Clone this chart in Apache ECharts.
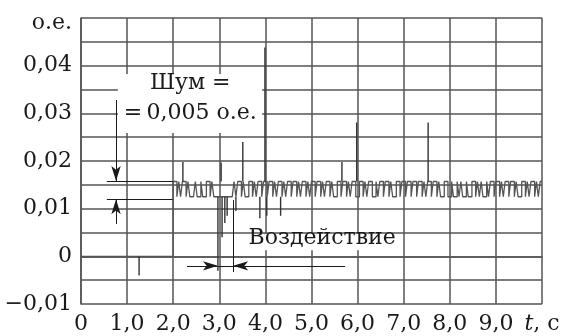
<!DOCTYPE html>
<html>
<head>
<meta charset="utf-8">
<script src="https://cdn.jsdelivr.net/npm/echarts@6/dist/echarts.min.js"></script>
<style>
html, body { margin: 0; padding: 0; background: #fff; }
#chart { width: 571px; height: 336px; }
</style>
</head>
<body>
<div id="chart"></div>
<script>
// axis ticks and their labels
const xTickValues = [0, 1, 2, 3, 4, 5, 6, 7, 8, 9, 10];
const xTickLabels = ["0", "1,0", "2,0", "3,0", "4,0", "5,0", "6,0", "7,0", "8,0", "9,0", "{i|t}, с"];
const yTickValues = [-0.01, 0, 0.01, 0.02, 0.03, 0.04, 0.05];
const yTickLabels = ["−0,01", "0", "0,01", "0,02", "0,03", "0,04", "{u|о.е.}"];

// signal before the noise starts, [t, value]
const headSignal = [[0, 0], [2.0, 0]];
const headDips = [[1.26, -0.004]];

// quantised noise after t = 2.0 s: 0 = low level, 1 = high level
const noiseStart = 2.0;
const sampleStep = 0.04;
const noiseLow = 0.0125;
const noiseHigh = 0.0157;
const noiseBits = [
    1, 1, 0, 1, 0, 1, 1, 0, 1, 0, 0, 0, 1, 0, 0, 1, 0, 0, 1, 1, 0, 1, 0, 0, 0,
    0, 0, 0, 0, 0, 0, 0, 0, 1, 0, 1, 1, 0, 1, 0, 0, 1, 1, 0, 1, 0, 1, 1, 0, 1,
    1, 0, 1, 1, 0, 1, 0, 1, 1, 0, 1, 0, 1, 1, 0, 1, 1, 0, 1, 0, 1, 1, 0, 1, 0,
    1, 1, 0, 1, 1, 0, 1, 0, 1, 1, 0, 1, 0, 0, 1, 1, 0, 1, 1, 0, 1, 0, 1, 1, 0,
    0, 1, 1, 0, 1, 0, 1, 1, 0, 0, 1, 0, 1, 1, 0, 1, 1, 0, 1, 0, 0, 1, 1, 0, 1,
    1, 0, 1, 1, 0, 1, 1, 0, 1, 1, 0, 1, 0, 1, 1, 0, 1, 1, 0, 1, 0, 0, 1, 1, 0,
    0, 1, 0, 0, 1, 0, 1, 0, 0, 1, 0, 0, 1, 1, 0, 1, 0, 1, 0, 0, 1, 0, 1, 1, 0,
    1, 1, 0, 1, 0, 1, 1, 0, 1, 1, 0, 1, 0, 0, 1, 1, 0, 1, 0, 1, 1, 0, 1, 0, 1,
];

// isolated spikes above the band and dips below it, [t, value]
const spikesUp = [[2.21, 0.0198], [3.04, 0.0197], [3.51, 0.024], [3.99, 0.0438], [5.66, 0.0198], [5.98, 0.0281], [7.53, 0.0281]];
const dipsDown = [[2.97, -0.003], [3.06, 0.004], [3.12, 0.007], [3.17, 0.0085], [3.36, 0.0095], [3.88, 0.008], [4.03, 0.0085], [4.33, 0.0085]];

const FONT = "DejaVu Serif";
const GRID_COLOR = "#555";
const INK = "#1a1a1a";

function tickLabel(values, labels, v) {
    const i = values.findIndex((x) => Math.abs(x - v) < 1e-9);
    return i < 0 ? "" : labels[i];
}

function stems(list, base) {
    const out = [];
    list.forEach(([t, v]) => {
        out.push([t, base], [t, v], [t, "-"]);
    });
    return out;
}

const signal = headSignal.slice();
noiseBits.forEach((b, i) => {
    signal.push([noiseStart + i * sampleStep, b ? noiseHigh : noiseLow]);
});
signal.push([10, noiseBits[noiseBits.length - 1] ? noiseHigh : noiseLow]);

const stemData = stems(headDips, 0)
    .concat(stems(spikesUp, noiseHigh))
    .concat(stems(dipsDown, noiseLow));

function seg(a, b, arrowEnd) {
    return [
        { coord: a, symbol: "none" },
        { coord: b, symbol: arrowEnd ? "arrow" : "none", symbolSize: [7, 15] },
    ];
}

const chart = echarts.init(document.getElementById("chart"));

const option = {
    animation: false,
    grid: { left: 81, right: 29, top: 18, bottom: 32, outerBoundsMode: "none" },
    xAxis: {
        type: "value",
        min: 0,
        max: 10,
        interval: 1,
        axisLine: { show: true, lineStyle: { color: GRID_COLOR, width: 1.5 } },
        axisTick: { show: false },
        splitLine: { show: true, lineStyle: { color: GRID_COLOR, width: 1.5 } },
        axisLabel: {
            margin: 9,
            color: INK,
            fontFamily: FONT,
            fontSize: 22,
            formatter: (v) => tickLabel(xTickValues, xTickLabels, v),
            rich: { i: { fontStyle: "italic", fontFamily: FONT, fontSize: 22, color: INK } },
        },
    },
    yAxis: {
        type: "value",
        min: -0.01,
        max: 0.05,
        interval: 0.005,
        axisLine: { show: true, lineStyle: { color: GRID_COLOR, width: 1.5 } },
        axisTick: { show: false },
        splitLine: { show: true, lineStyle: { color: GRID_COLOR, width: 1.5 } },
        axisLabel: {
            margin: 9,
            color: INK,
            fontFamily: FONT,
            fontSize: 22,
            formatter: (v) => tickLabel(yTickValues, yTickLabels, v),
            rich: { u: { fontFamily: FONT, fontSize: 22, color: INK, padding: [10, 0, 0, 0] } },
        },
    },
    series: [
        {
            type: "line",
            z: 5,
            step: "end",
            showSymbol: false,
            data: signal,
            lineStyle: { color: "#555", width: 1.3 },
        },
        {
            type: "line",
            z: 5,
            showSymbol: false,
            connectNulls: false,
            data: stemData,
            lineStyle: { color: "#333", width: 1.4 },
        },
        {
            type: "line",
            z: 6,
            data: [],
            markLine: {
                silent: true,
                animation: false,
                symbol: ["none", "none"],
                label: { show: false },
                lineStyle: { color: INK, width: 1, type: "solid" },
                data: [
                    seg([0.56, 0.0158], [2.0, 0.0158], false),
                    seg([0.56, 0.012], [2.0, 0.012], false),
                    seg([0.76, 0.0328], [0.76, 0.0158], true),
                    seg([0.76, 0.0068], [0.76, 0.012], true),
                    seg([2.3, -0.002], [5.73, -0.002], false),
                    seg([2.5, -0.002], [2.97, -0.002], true),
                    seg([3.8, -0.002], [3.3, -0.002], true),
                    seg([3.3, 0.0118], [3.3, -0.0033], false),
                ],
            },
        },
    ],
};

chart.setOption(option);

// white boxes behind the annotation texts, given in data coordinates
const px = (p) => chart.convertToPixel({ gridIndex: 0 }, p);
function box(tl, br) {
    const a = px(tl);
    const b = px(br);
    return {
        type: "rect",
        z: 3,
        shape: { x: a[0], y: a[1], width: b[0] - a[0], height: b[1] - a[1] },
        style: { fill: "#fff" },
    };
}
function label(text, at) {
    const p = px(at);
    return {
        type: "text",
        z: 4,
        style: {
            text,
            x: p[0],
            y: p[1],
            fill: INK,
            font: "22px '" + FONT + "'",
            textAlign: "center",
            textVerticalAlign: "middle",
            align: "center",
            verticalAlign: "middle",
        },
    };
}

chart.setOption({
    graphic: [
        box([0.8, 0.03825], [3.93, 0.02587]),
        box([3.53, 0.0047], [6.9, 0.0013]),
        label("Шум =", [2.37, 0.0362]),
        label("=\u20090,005 о.е.", [2.37, 0.0301]),
        label("Воздействие", [5.23, 0.0038]),
    ],
});
</script>
</body>
</html>
